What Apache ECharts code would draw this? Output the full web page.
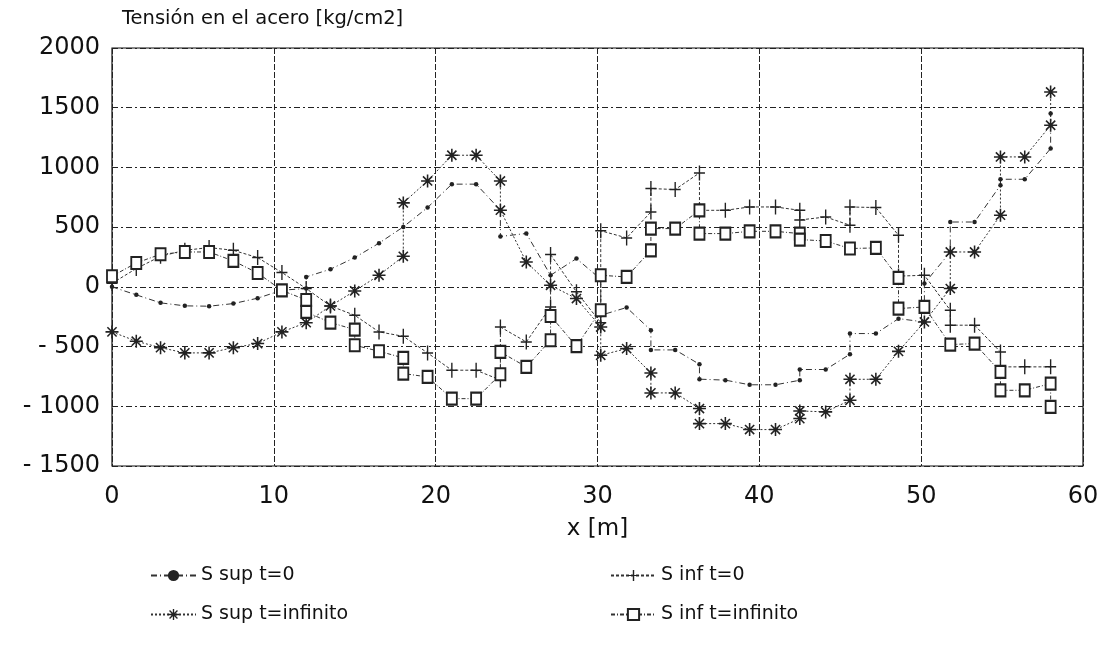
<!DOCTYPE html>
<html>
<head>
<meta charset="utf-8">
<script src="https://cdn.jsdelivr.net/npm/echarts@6.0.0/dist/echarts.min.js"></script>
<style>
html, body { margin: 0; padding: 0; background: #fff; }
#main { width: 1107px; height: 663px; }
</style>
</head>
<body>
<div id="main"></div>
<script>
// valores: [x (m), tension (kg/cm2)]
// los puntos repetidos en x son saltos de tension
var supT0 = [
  [0, 0], [1.5, -67], [3, -134], [4.5, -159], [6, -162], [7.5, -140], [9, -95], [10.5, -28],
  [12, -14], [12, 83], [13.5, 148], [15, 245], [16.5, 366], [18, 502], [19.5, 664], [21, 860],
  [22.5, 860], [24, 642], [24, 422], [25.6, 447], [27.1, 97], [28.7, 237], [30.2, 64], [30.2, -238],
  [31.8, -173], [33.3, -363], [33.3, -528], [34.8, -528], [36.3, -648], [36.3, -773], [37.9, -781],
  [39.4, -820], [41, -820], [42.5, -782], [42.5, -692], [44.1, -692], [45.6, -564], [45.6, -391],
  [47.2, -391], [48.6, -266], [50.2, -294], [50.2, 28], [51.8, 292], [51.8, 543], [53.3, 543],
  [54.9, 851], [54.9, 901], [56.4, 901], [58, 1158], [58, 1451]
];
var infT0 = [
  [0, 30], [1.5, 153], [3, 256], [4.5, 306], [6, 329], [7.5, 306], [9, 245], [10.5, 120],
  [12, -14], [13.5, -160], [15, -238], [16.5, -377], [18, -414], [19.5, -553], [21, -698],
  [22.5, -698], [24, -780], [24, -336], [25.6, -461], [27.1, -168], [27.1, 270], [28.7, -42],
  [30.2, -300], [30.2, 470], [31.8, 410], [33.3, 627], [33.3, 823], [34.8, 815], [36.3, 954],
  [36.3, 641], [37.9, 641], [39.4, 669], [41, 669], [42.5, 641], [42.5, 560], [44.1, 585],
  [45.6, 516], [45.6, 669], [47.2, 664], [48.6, 432], [48.6, 90], [50.2, 97], [51.8, -196],
  [51.8, -321], [53.3, -321], [54.9, -545], [54.9, -670], [56.4, -670], [58, -670]
];
var supTinf = [
  [0, -377], [1.5, -455], [3, -509], [4.5, -553], [6, -553], [7.5, -509], [9, -475], [10.5, -377],
  [12, -300], [13.5, -160], [15, -34], [16.5, 97], [18, 256], [18, 703], [19.5, 887], [21, 1102],
  [22.5, 1102], [24, 887], [24, 642], [25.6, 208], [27.1, 13], [28.7, -98], [30.2, -336],
  [30.2, -573], [31.8, -517], [33.3, -721], [33.3, -888], [34.8, -888], [36.3, -1019],
  [36.3, -1145], [37.9, -1145], [39.4, -1195], [41, -1195], [42.5, -1103], [42.5, -1039],
  [44.1, -1047], [45.6, -950], [45.6, -774], [47.2, -774], [48.6, -540], [50.2, -294],
  [51.8, -14], [51.8, 292], [53.3, 292], [54.9, 600], [54.9, 1088], [56.4, 1088], [58, 1353], [58, 1632]
];
var infTinf = [
  [0, 89], [1.5, 200], [3, 273], [4.5, 292], [6, 292], [7.5, 217], [9, 116], [10.5, -30],
  [12, -110], [12, -210], [13.5, -299], [15, -358], [15, -489], [16.5, -539], [18, -595],
  [18, -726], [19.5, -754], [21, -936], [22.5, -936], [24, -732], [24, -545], [25.6, -670],
  [27.1, -447], [27.1, -244], [28.7, -497], [30.2, -196], [30.2, 97], [31.8, 83], [33.3, 306],
  [33.3, 488], [34.8, 488], [36.3, 641], [36.3, 446], [37.9, 446], [39.4, 465], [41, 465],
  [42.5, 446], [42.5, 396], [44.1, 384], [45.6, 321], [47.2, 326], [48.6, 75], [48.6, -182],
  [50.2, -168], [51.8, -483], [53.3, -475], [54.9, -712], [54.9, -866], [56.4, -866],
  [58, -810], [58, -1005]
];
var names = ['S sup t=0', 'S inf t=0', 'S sup t=infinito', 'S inf t=infinito'];

// simbolos: asterisco y cruz
function barra(a) {
  var c = Math.cos(a), s = Math.sin(a), L = 10, w = 1.2;
  var pts = [[L, w], [-L, w], [-L, -w], [L, -w]].map(function (p) {
    return (p[0] * c - p[1] * s).toFixed(2) + ',' + (p[0] * s + p[1] * c).toFixed(2);
  });
  return 'M' + pts.join('L') + 'Z';
}
var asterisco = 'path://' + barra(0) + barra(Math.PI / 4) + barra(Math.PI / 2) + barra(3 * Math.PI / 4);
var cruz = 'path://M-1,-10L1,-10L1,-1L8,-1L8,1L1,1L1,10L-1,10L-1,1L-8,1L-8,-1L-1,-1Z';

var fuente = 'DejaVu Sans, Verdana, sans-serif';
var myChart = echarts.init(document.getElementById('main'));
var option = {
  backgroundColor: '#fff',
  animation: false,
  title: {
    text: 'Tensión en el acero [kg/cm2]',
    left: 117, top: 4,
    textStyle: { fontFamily: fuente, fontSize: 19.5, fontWeight: 'normal', color: '#111' }
  },
  grid: {
    left: 112, right: 24, top: 48, bottom: 197,
    show: true, borderColor: '#111', borderWidth: 1.2
  },
  legend: [
    {
      data: [names[0], names[2]],
      orient: 'vertical', left: 145, top: 561,
      itemWidth: 45, itemHeight: 14, itemGap: 20,
      textStyle: { fontFamily: fuente, fontSize: 19, color: '#111' }
    },
    {
      data: [names[1], names[3]],
      orient: 'vertical', left: 605, top: 561,
      itemWidth: 45, itemHeight: 14, itemGap: 20,
      textStyle: { fontFamily: fuente, fontSize: 19, color: '#111' }
    }
  ],
  xAxis: {
    type: 'value', min: 0, max: 60, interval: 10,
    name: 'x [m]', nameLocation: 'middle', nameGap: 52,
    nameTextStyle: { fontFamily: fuente, fontSize: 23, color: '#111' },
    axisLine: { show: false },
    axisTick: { show: false },
    axisLabel: { margin: 19, fontFamily: fuente, fontSize: 24, color: '#111' },
    splitLine: { show: true, lineStyle: { color: '#222', width: 1, type: [6, 2] } }
  },
  yAxis: {
    type: 'value', min: -1500, max: 2000, interval: 500,
    axisLine: { show: false },
    axisTick: { show: false },
    axisLabel: {
      margin: 12, fontFamily: fuente, fontSize: 24, color: '#111',
      formatter: function (v) { return v < 0 ? '- ' + (-v) : v; }
    },
    splitLine: { show: true, lineStyle: { color: '#222', width: 1, type: [6, 3, 2, 3] } }
  },
  series: [
    {
      name: names[0], type: 'line', data: supT0,
      symbol: 'circle', symbolSize: 4.5,
      itemStyle: { color: '#222' },
      lineStyle: { color: '#333', width: 1, type: [6, 3, 1, 3] }
    },
    {
      name: names[1], type: 'line', data: infT0,
      symbol: cruz, symbolSize: [11, 15],
      itemStyle: { color: '#222' },
      lineStyle: { color: '#333', width: 1, type: [3, 2] }
    },
    {
      name: names[2], type: 'line', data: supTinf,
      symbol: asterisco, symbolSize: 13,
      itemStyle: { color: '#222' },
      lineStyle: { color: '#333', width: 1, type: [2, 2] }
    },
    {
      name: names[3], type: 'line', data: infTinf,
      symbol: 'emptyRect', symbolSize: [10, 12],
      itemStyle: { color: '#222', borderWidth: 1.2 },
      lineStyle: { color: '#333', width: 1, type: [4, 2, 1, 2] }
    }
  ]
};
myChart.setOption(option);
</script>
</body>
</html>
